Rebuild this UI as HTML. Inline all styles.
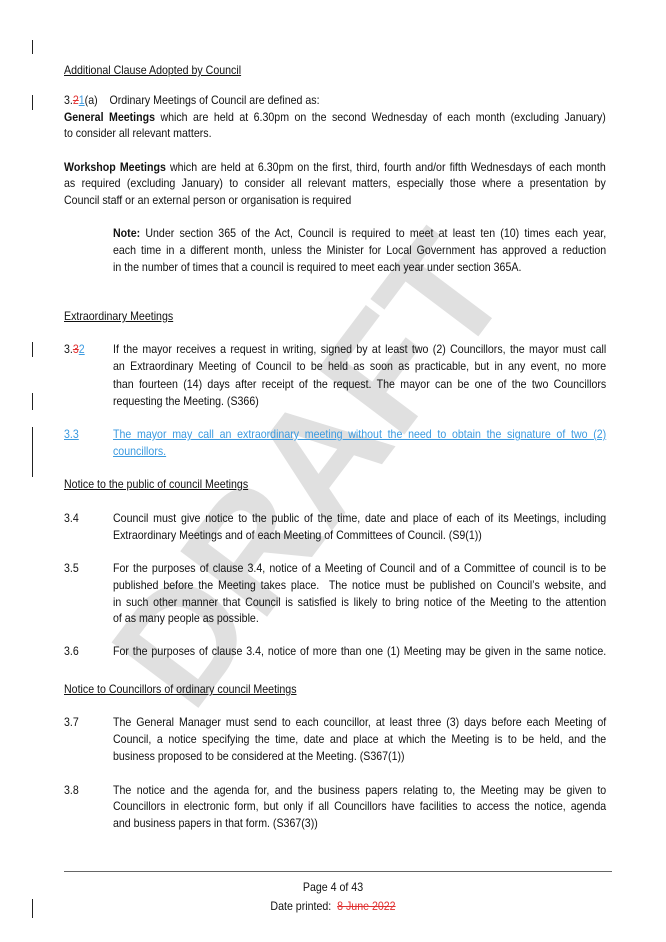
<!DOCTYPE html>
<html><head><meta charset="utf-8">
<style>
html,body{margin:0;padding:0;background:#fff}
body{width:666px;height:942px;position:relative;overflow:hidden;font-family:"Liberation Sans",Arial,sans-serif;font-size:11.8px;color:#111}
.l{position:absolute;white-space:nowrap;line-height:14px;z-index:2;transform:scaleX(0.9);transform-origin:0 50%}
.j{text-align:justify;text-align-last:justify}
.w{left:64px;width:602px}
.i{left:113px;width:548px}
.n{left:64px}
.u{text-decoration:underline}
.c{left:0;width:666px;text-align:center;transform-origin:50% 50%}
.bar{position:absolute;left:32px;width:1.3px;background:#222;z-index:2}
.blue{color:#3b9ae0;text-decoration:underline}
.red{color:#e03030}
#wm{position:absolute;left:-40px;top:390px;width:700px;height:160px;line-height:160px;text-align:center;font-size:158px;font-weight:bold;color:#e0e0e0;transform:rotate(-53deg);transform-origin:center;z-index:1;white-space:nowrap}
</style></head><body>
<div id="wm">DRAFT</div>

<div class="bar" style="top:40px;height:14px"></div>
<div class="bar" style="top:95px;height:15px"></div>
<div class="bar" style="top:342px;height:15px"></div>
<div class="bar" style="top:393px;height:17px"></div>
<div class="bar" style="top:427px;height:50px"></div>
<div class="bar" style="top:899px;height:19px"></div>

<div class="l n u" style="top:63px">Additional Clause Adopted by Council</div>
<div class="l n" style="top:93px">3.<span class="red" style="text-decoration:line-through">2</span><span class="blue">1</span>(a)&nbsp;&nbsp;&nbsp; Ordinary Meetings of Council are defined as:</div>
<div class="l w j" style="top:110px"><b>General Meetings</b> which are held at 6.30pm on the second Wednesday of each month (excluding January)</div>
<div class="l n" style="top:126px">to consider all relevant matters.</div>

<div class="l w j" style="top:160px"><b>Workshop Meetings</b> which are held at 6.30pm on the first, third, fourth and/or fifth Wednesdays of each month</div>
<div class="l w j" style="top:176px">as required (excluding January) to consider all relevant matters, especially those where a presentation by</div>
<div class="l n" style="top:193px">Council staff or an external person or organisation is required</div>

<div class="l i j" style="top:226px"><b>Note:</b> Under section 365 of the Act, Council is required to meet at least ten (10) times each year,</div>
<div class="l i j" style="top:243px">each time in a different month, unless the Minister for Local Government has approved a reduction</div>
<div class="l" style="left:113px;top:260px">in the number of times that a council is required to meet each year under section 365A.</div>

<div class="l n u" style="top:309px">Extraordinary Meetings</div>
<div class="l n" style="top:342px">3.<span class="red" style="text-decoration:line-through">3</span><span class="blue">2</span></div>
<div class="l i j" style="top:342px">If the mayor receives a request in writing, signed by at least two (2) Councillors, the mayor must call</div>
<div class="l i j" style="top:359px">an Extraordinary Meeting of Council to be held as soon as practicable, but in any event, no more</div>
<div class="l i j" style="top:377px">than fourteen (14) days after receipt of the request. The mayor can be one of the two Councillors</div>
<div class="l" style="left:113px;top:394px">requesting the Meeting. (S366)</div>

<div class="l n blue" style="top:427px;width:55px">3.3</div>
<div class="l i j blue" style="top:427px">The mayor may call an extraordinary meeting without the need to obtain the signature of two (2)</div>
<div class="l blue" style="left:113px;top:444px">councillors.</div>

<div class="l n u" style="top:477px">Notice to the public of council Meetings</div>
<div class="l n" style="top:511px">3.4</div>
<div class="l i j" style="top:511px">Council must give notice to the public of the time, date and place of each of its Meetings, including</div>
<div class="l" style="left:113px;top:528px">Extraordinary Meetings and of each Meeting of Committees of Council. (S9(1))</div>

<div class="l n" style="top:561px">3.5</div>
<div class="l i j" style="top:561px">For the purposes of clause 3.4, notice of a Meeting of Council and of a Committee of council is to be</div>
<div class="l i j" style="top:578px">published before the Meeting takes place.&nbsp; The notice must be published on Council’s website, and</div>
<div class="l i j" style="top:595px">in such other manner that Council is satisfied is likely to bring notice of the Meeting to the attention</div>
<div class="l" style="left:113px;top:611px">of as many people as possible.</div>

<div class="l n" style="top:644px">3.6</div>
<div class="l i j" style="top:644px">For the purposes of clause 3.4, notice of more than one (1) Meeting may be given in the same notice.</div>

<div class="l n u" style="top:682px">Notice to Councillors of ordinary council Meetings</div>
<div class="l n" style="top:715px">3.7</div>
<div class="l i j" style="top:715px">The General Manager must send to each councillor, at least three (3) days before each Meeting of</div>
<div class="l i j" style="top:732px">Council, a notice specifying the time, date and place at which the Meeting is to be held, and the</div>
<div class="l" style="left:113px;top:749px">business proposed to be considered at the Meeting. (S367(1))</div>

<div class="l n" style="top:783px">3.8</div>
<div class="l i j" style="top:783px">The notice and the agenda for, and the business papers relating to, the Meeting may be given to</div>
<div class="l i j" style="top:799px">Councillors in electronic form, but only if all Councillors have facilities to access the notice, agenda</div>
<div class="l" style="left:113px;top:816px">and business papers in that form. (S367(3))</div>

<div style="position:absolute;left:64px;top:871px;width:548px;height:1px;background:#666"></div>
<div class="l c" style="top:880px">Page 4 of 43</div>
<div class="l c" style="top:899px">Date printed:&nbsp; <span class="red" style="text-decoration:line-through">8 June 2022</span></div>
</body></html>
